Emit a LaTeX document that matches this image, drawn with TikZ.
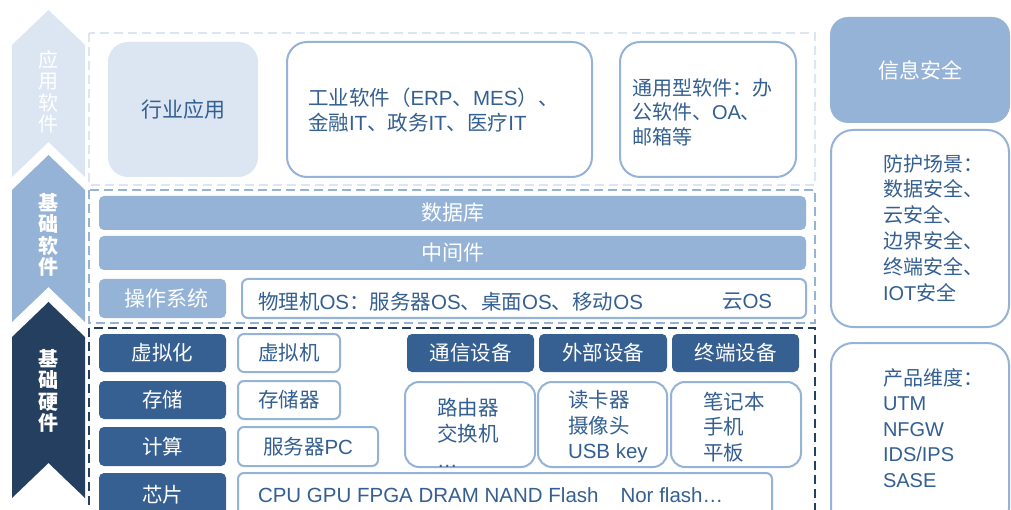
\documentclass[tikz,border=0pt]{standalone}
\usepackage{fontspec}
\setmainfont{Noto Sans CJK SC}
\newfontfamily\lat{Liberation Sans}
\definecolor{lightb}{HTML}{DCE6F2}
\definecolor{midb}{HTML}{95B3D7}
\definecolor{darkb}{HTML}{366092}
\definecolor{navy}{HTML}{243F60}
\definecolor{txt}{HTML}{335F92}
\newcommand\fs[2]{\fontsize{#1}{#2}\selectfont}
\newcommand\bx[7]{\node[#6, minimum width={#4-#2}, minimum height={#5-#3}] (#1) at ({(#2+#4)/2},{(#3+#5)/2}) {#7};}
\tikzset{
  base/.style={inner sep=0pt, outer sep=0pt},
  dbox/.style={base, fill=darkb, rounded corners=5pt, text=white, font=\fs{20.5}{24}},
  mbar/.style={base, fill=midb, rounded corners=5pt, text=white, font=\fs{21}{24}},
  lfill/.style={base, fill=lightb, rounded corners=20pt, text=txt, font=\fs{21}{25}},
  wbox/.style={base, draw=midb, line width=2pt, fill=white, rounded corners=#1, text=txt, font=\fs{20.5}{24}},
  wbox/.default=6pt,
  frame/.style={line width=2pt, dash pattern=on 9pt off 5pt},
  lbl/.style={base, text=txt, align=left, anchor=west},
  chev/.style={base, text=white, align=center, font=\fs{20}{21.5}\bfseries}
}
\begin{document}
\begin{tikzpicture}[x=1pt,y=-1pt]
\useasboundingbox (0,0) rectangle (1011,510);
\fill[white] (0,0) rectangle (1011,510);

% chevrons
\fill[lightb] (12,45) -- (48.5,10) -- (85,45) -- (85,177) -- (48.5,142) -- (12,177) -- cycle;
\fill[midb] (12,190) -- (48.5,155) -- (85,190) -- (85,322) -- (48.5,287) -- (12,322) -- cycle;
\fill[navy] (12,337) -- (48.5,302) -- (85,337) -- (85,498) -- (48.5,463) -- (12,498) -- cycle;
\node[chev, font=\fs{20}{21.5}] (c1) at (48.5,92) {应\\用\\软\\件};
\node[chev] (c2) at (48.5,235) {基\\础\\软\\件};
\node[chev] (c3) at (48.5,391) {基\\础\\硬\\件};

% dashed frames
\draw[frame, lightb] (89,33) rectangle (815,185);
\draw[frame, midb] (89,190) rectangle (815,323);
\draw[frame, navy] (89,328) rectangle (815,540);

% application software
\bx{hy}{108}{42}{258}{177}{lfill}{行业应用}
\bx{gy}{287}{42}{592}{177}{wbox=20pt}{}
\node[lbl, font=\fs{20.5}{25}] (gyt) at (308,110) {工业软件（{\lat ERP}、{\lat MES}）、\\金融{\lat IT}、政务{\lat IT}、医疗{\lat IT}};
\bx{ty}{620}{42}{796}{177}{wbox=20pt}{}
\node[lbl, font=\fs{20}{24.5}] (tyt) at (632,112) {通用型软件：办\\公软件、{\lat OA}、\\邮箱等};

% basic software
\bx{db}{99}{196}{806}{230}{mbar}{数据库}
\bx{zj}{99}{236}{806}{270}{mbar}{中间件}
\bx{cz}{99}{279}{226}{318}{mbar}{\hspace{8pt}操作系统}
\bx{os}{242}{279}{806}{318}{wbox}{}
\node[lbl, font=\fs{20.5}{24}] (ost) at (258,302) {物理机{\lat OS}：服务器{\lat OS}、桌面{\lat OS}、移动{\lat OS}};
\node[lbl, font=\fs{20.5}{24}] (yos) at (722,302) {云{\lat OS}};

% hardware
\bx{xn}{99}{334}{226}{372}{dbox}{虚拟化}
\bx{cc}{99}{381}{226}{419}{dbox}{存储}
\bx{js}{99}{427}{226}{466}{dbox}{计算}
\bx{xp}{99}{473}{226}{520}{dbox}{\raisebox{5pt}{芯片}}
\bx{xnj}{238}{334}{340}{372}{wbox}{虚拟机}
\bx{ccq}{238}{381}{340}{419}{wbox}{存储器}
\bx{fwq}{238}{427}{378}{466}{wbox}{服务器{\lat PC}}
\bx{cpu}{238}{473}{772}{530}{wbox}{}
\node[lbl, font=\fs{20.5}{24}] (cput) at (258,495) {{\lat CPU GPU FPGA DRAM NAND Flash\hspace{22pt}Nor flash…}};

\bx{tx}{407}{334}{534}{372}{dbox}{通信设备}
\bx{wb}{539}{334}{667}{372}{dbox}{外部设备}
\bx{zd}{672}{334}{799}{372}{dbox}{终端设备}
\bx{ly}{405}{382}{535}{467}{wbox=14pt}{}
\node[lbl, font=\fs{20.5}{26}] (lyt) at (437,433) {路由器\\交换机\\{\lat …}};
\bx{dk}{538}{382}{667}{467}{wbox=14pt}{}
\node[lbl, font=\fs{20.5}{25.5}] (dkt) at (568,427) {读卡器\\摄像头\\{\lat USB key}};
\bx{bj}{671}{382}{801}{467}{wbox=14pt}{}
\node[lbl, font=\fs{20.5}{25.5}] (bjt) at (703,427) {笔记本\\手机\\平板};

% security column
\bx{xx}{830}{17}{1010}{123}{mbar, rounded corners=18pt, font=\fs{21}{25}}{信息安全}
\bx{fh}{831}{130}{1009}{327}{wbox=22pt}{}
\node[lbl, font=\fs{20}{25.8}] (fht) at (883,228) {防护场景：\\数据安全、\\云安全、\\边界安全、\\终端安全、\\{\lat IOT}安全};
\bx{cp}{831}{343}{1009}{530}{wbox=22pt}{}
\node[lbl, font=\fs{20}{25.5}] (cpt) at (883,428) {产品维度：\\{\lat UTM}\\{\lat NFGW}\\{\lat IDS/IPS}\\{\lat SASE}};
\end{tikzpicture}
\end{document}
